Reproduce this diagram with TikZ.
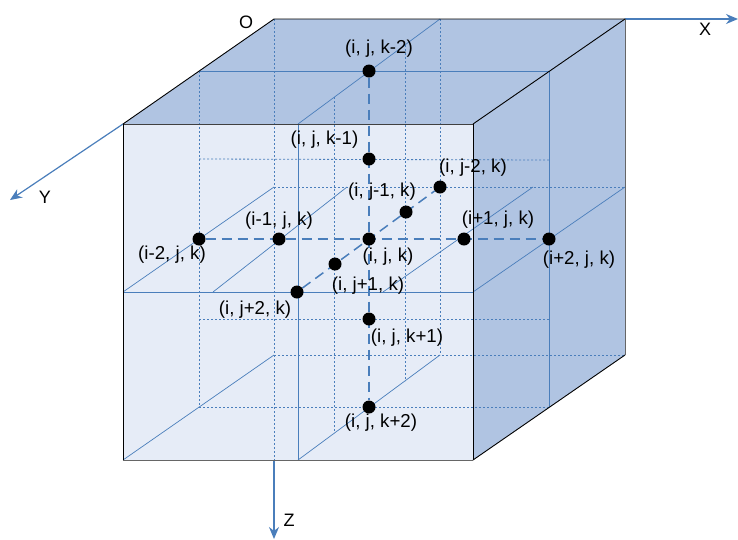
\documentclass[tikz,border=0pt]{standalone}
\usepackage{fontspec}
\setmainfont{Liberation Sans}
\usetikzlibrary{arrows.meta}
\definecolor{gridblue}{HTML}{4A7EBB}
\definecolor{sideblue}{HTML}{B0C4E2}
\definecolor{frontblue}{HTML}{E6ECF7}
\pgfdeclarelayer{fore}
\pgfsetlayers{main,fore}
\tikzset{
	solidline/.style={gridblue, line width=1pt},
	thinline/.style={gridblue, line width=0.7pt},
	dotline/.style={gridblue, line width=0.8pt, dash pattern=on 2pt off 2pt},
	dashline/.style={gridblue, line width=1.5pt, dash pattern=on 10pt off 6pt},
	axisline/.style={gridblue, line width=1.2pt, -{Stealth[length=12pt,width=10pt]}},
	gridpoint/.style={circle, fill=black, inner sep=0pt, minimum size=13pt},
	lab/.style={inner sep=0pt, font=\fontsize{18.7}{20}\selectfont},
	axislab/.style={inner sep=0pt, font=\fontsize{18}{20}\selectfont}
}
\begin{document}
\begin{tikzpicture}[x=1pt, y=-1pt, line join=round]
	\useasboundingbox (0,539) rectangle (738,0);
	% Cube corners
	\coordinate (fa) at (123,124);
	\coordinate (fb) at (473,124);
	\coordinate (fc) at (473,460);
	\coordinate (fd) at (123,460);
	\coordinate (ba) at (274,19);
	\coordinate (bb) at (625,19);
	\coordinate (bc) at (625,355);
	\coordinate (bd) at (274,355);

	% Faces of the cube
	\fill[sideblue] (ba) -- (bb) -- (fb) -- (fa) -- cycle;
	\fill[sideblue] (fb) -- (bb) -- (bc) -- (fc) -- cycle;
	\fill[frontblue] (fa) -- (fb) -- (fc) -- (fd) -- cycle;

	% Axes
	\coordinate (xend) at (738,19);
	\coordinate (yend) at (10,200);
	\coordinate (zend) at (274,539);
	\draw[axisline] (bb) -- (xend);
	\draw[axisline] (fa) -- (yend);
	\draw[axisline] (fd -| ba) -- (zend);

	% Dotted grid, back and middle
	\draw[dotline] (ba) -- (274,460);
	\draw[dotline] (199,71) -- (199,407);
	\draw[dotline] (334,97) -- (334,433);
	\draw[dotline] (405,45) -- (405,381);
	\draw[dotline] (440,19) -- (440,355);
	\draw[dotline] (199,159) -- (549,160);
	\draw[dotline] (274,187) -- (625,187);
	\draw[dotline] (199,319) -- (549,319);
	\draw[dotline] (bd) -- (bc);
	\draw[dotline] (199,407) -- (549,407);

	% Thin diagonals
	\draw[thinline] (123,292) -- (274,187);
	\draw[thinline] (213,292) -- (347,187);
	\draw[thinline] (383,292) -- (533,187);
	\draw[thinline] (fd) -- (bd);
	\draw[thinline] (298,460) -- (440,355);
	\draw[thinline] (298,124) -- (440,19);
	\draw[thinline] (473,292) -- (625,187);

	% Solid grid
	\draw[solidline] (199,71) -- (549,71);
	\draw[solidline] (549,71) -- (549,407);
	\draw[solidline] (298,124) -- (298,460);
	\draw[solidline] (123,292) -- (473,292);

	% Outline
	\draw[black!75, line width=1pt] (fa) -- (fb);
	\draw[black!60, line width=1pt] (fd) -- (fc);
	\draw[black!60, line width=1pt] (bb) -- (bc);
	\draw[black, line width=0.9pt] (fa) -- (fd);
	\draw[black, line width=0.9pt] (fb) -- (fc);
	\draw[black, line width=0.9pt] (fa) -- (ba) -- (bb);
	\draw[black, line width=0.9pt] (fb) -- (bb);
	\draw[black, line width=0.9pt] (fc) -- (bc);

	% Grid points and labels sit above the lines
	\begin{pgfonlayer}{fore}
	\node[gridpoint] (im2) at (199,239) {};
	\node[gridpoint] (im1) at (279,239) {};
	\node[gridpoint] (ctr) at (369,239) {};
	\node[gridpoint] (ip1) at (464,239) {};
	\node[gridpoint] (ip2) at (549,239) {};
	\node[gridpoint] (km2) at (369,71) {};
	\node[gridpoint] (km1) at (369,159) {};
	\node[gridpoint] (kp1) at (369,319) {};
	\node[gridpoint] (kp2) at (369,407) {};
	\node[gridpoint] (jm2) at (440,187) {};
	\node[gridpoint] (jm1) at (406,212) {};
	\node[gridpoint] (jp1) at (335,264) {};
	\node[gridpoint] (jp2) at (297,292) {};

	\node[lab] (lkm2) at (379,49) {(i, j, k-2)};
	\node[lab] (lkm1) at (324.5,140) {(i, j, k-1)};
	\node[lab] (ljm2) at (473,168) {(i, j-2, k)};
	\node[lab] (ljm1) at (382,192) {(i, j-1, k)};
	\node[lab] (lim1) at (279,221) {(i-1, j, k)};
	\node[lab] (lip1) at (498,220) {(i+1, j, k)};
	\node[lab] (lim2) at (172,255) {(i-2, j, k)};
	\node[lab] (lctr) at (388,257) {(i, j, k)};
	\node[lab] (lip2) at (579,260) {(i+2, j, k)};
	\node[lab] (ljp1) at (368,286) {(i, j+1, k)};
	\node[lab] (ljp2) at (255,310) {(i, j+2, k)};
	\node[lab] (lkp1) at (407,338) {(i, j, k+1)};
	\node[lab] (lkp2) at (381,423) {(i, j, k+2)};
	\node[axislab] (lo) at (246,22) {O};
	\node[axislab] (lx) at (705,29) {X};
	\node[axislab] (ly) at (45,197) {Y};
	\node[axislab] (lz) at (289,520) {Z};
	\end{pgfonlayer}

	% Stencil lines through the centre
	\draw[dashline] (im2) -- (ip2);
	\draw[dashline] (km2) -- (kp2);
	\draw[dashline] (jp2) -- (jm2);
\end{tikzpicture}
\end{document}
